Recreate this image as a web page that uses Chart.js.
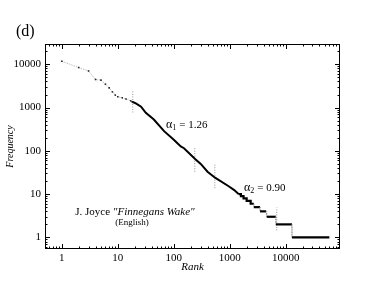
<!DOCTYPE html>
<html>
<head>
<meta charset="utf-8">
<script src="https://cdn.jsdelivr.net/npm/chart.js@4.4.1/dist/chart.umd.min.js"></script>
<style>
  html, body { margin: 0; padding: 0; background: #fff; }
  #wrap { width: 382px; height: 295px; }
</style>
</head>
<body>
<div id="wrap"><canvas id="myChart" width="382" height="295"></canvas></div>
<script>
// head of the distribution (sparse dots)
var headRank = [1, 2, 3, 4, 5, 6, 7, 8, 9, 10, 12, 14, 17, 18];
var headFreq = [11700, 8400, 7000, 4450, 4300, 3470, 2850, 2300, 1940, 1770, 1680, 1570, 1430, 1360];

// dense middle part
var midRank = [18, 21, 26, 31.6, 44, 67, 100, 133, 152, 240, 303, 400, 545, 970, 1200, 1450];
var midFreq = [1360, 1250, 1050, 755, 530, 285, 180, 126, 115, 65, 50, 33, 24, 15, 12.4, 10];

// tail: plateaus of equal frequency
var stepFreq  = [10, 9, 8, 7, 6, 5, 4, 3, 2, 1];
var stepStart = [1450, 1580, 1760, 2000, 2360, 2690, 3470, 4570, 6650, 12900];
var stepEnd   = [1580, 1760, 2000, 2360, 2690, 3470, 4450, 6650, 12900, 60000];

// dotted markers of the fit ranges
var markRank = [18.5, 237, 540, 6900];
var markLow  = [770, 33, 13.7, 1.45];
var markHigh = [2500, 123, 48, 4.9];

var xTickLabels = [1, 10, 100, 1000, 10000];
var yTickLabels = [1, 10, 100, 1000, 10000];

var serif = '"Liberation Serif", "DejaVu Serif", serif';

function pts(xs, ys) {
    return xs.map(function (x, i) { return { x: x, y: ys[i] }; });
}

var tail = [{ x: midRank[midRank.length - 1], y: midFreq[midFreq.length - 1] }];
stepFreq.forEach(function (f, i) {
    tail.push({ x: stepStart[i], y: f });
    tail.push({ x: stepEnd[i], y: f });
});

var datasets = [
    {
        data: pts(headRank, headFreq), showLine: true,
        borderColor: '#a0a0a0', borderWidth: 0.7, borderDash: [1.5, 1],
        pointStyle: 'rect', pointRadius: 1.1, pointBackgroundColor: '#222', pointBorderWidth: 0
    },
    {
        data: pts(midRank, midFreq), showLine: true,
        borderColor: '#000', borderWidth: 2, pointRadius: 0
    },
    {
        data: tail, showLine: true, borderColor: '#000', pointRadius: 0, borderWidth: 2.2,
        segment: {
            borderWidth: function (ctx) { return Math.abs(ctx.p0.y - ctx.p1.y) > 3 ? 0.8 : 2.2; },
            borderDash: function (ctx) { return Math.abs(ctx.p0.y - ctx.p1.y) > 3 ? [1, 1.5] : undefined; },
            borderColor: function (ctx) { return Math.abs(ctx.p0.y - ctx.p1.y) > 3 ? '#888' : '#000'; }
        }
    }
];
markRank.forEach(function (r, i) {
    datasets.push({
        data: [{ x: r, y: markLow[i] }, { x: r, y: markHigh[i] }], showLine: true,
        borderColor: '#777', borderWidth: 0.8, borderDash: [1, 1.5], pointRadius: 0
    });
});

function isLabel(v, list) {
    return list.some(function (t) { return Math.abs(t - v) < 1e-6 * t; });
}

// 프레임, 안쪽 눈금, 글자
var decor = {
    id: 'decor',
    afterDraw: function (chart) {
        var c = chart.ctx, a = chart.chartArea;
        var xs = chart.scales.x, ys = chart.scales.y;
        c.save();
        c.strokeStyle = '#000';
        c.lineWidth = 1;
        c.strokeRect(a.left + 0.5, a.top + 0.5, a.right - a.left - 1, a.bottom - a.top - 1);

        c.beginPath();
        for (var d = -1; d <= 5; d++) {
            for (var m = 1; m <= 9; m++) {
                var v = m * Math.pow(10, d);
                var len = m === 1 ? 5 : 2.5;
                if (v >= xs.min && v <= xs.max) {
                    var px = Math.round(xs.getPixelForValue(v)) + 0.5;
                    c.moveTo(px, a.bottom); c.lineTo(px, a.bottom - len);
                    c.moveTo(px, a.top); c.lineTo(px, a.top + len);
                }
                if (v >= ys.min && v <= ys.max) {
                    var py = Math.round(ys.getPixelForValue(v)) + 0.5;
                    c.moveTo(a.left, py); c.lineTo(a.left + len, py);
                    c.moveTo(a.right, py); c.lineTo(a.right - len, py);
                }
            }
        }
        c.stroke();

        c.fillStyle = '#000';
        c.textBaseline = 'middle';
        c.textAlign = 'left';
        c.font = '16px ' + serif;
        c.fillText('(d)', 16, 32);

        c.textAlign = 'center';
        c.font = 'italic 11px ' + serif;
        c.fillText('Rank', (a.left + a.right) / 2, 267);
        c.save();
        c.translate(10, (a.top + a.bottom) / 2);
        c.rotate(-Math.PI / 2);
        c.font = 'italic 10px ' + serif;
        c.fillText('Frequency', 0, 0);
        c.restore();

        function alpha(x, y, sub, rest) {
            c.textAlign = 'left';
            c.font = '12px ' + serif;
            c.fillText('\u03b1', x, y);
            var w = c.measureText('\u03b1').width;
            c.font = '8px ' + serif;
            c.fillText(sub, x + w, y + 3);
            var w2 = c.measureText(sub).width;
            c.font = '11px ' + serif;
            c.fillText(rest, x + w + w2 + 3, y);
        }
        alpha(166, 125, '1', '= 1.26');
        alpha(244, 188, '2', '= 0.90');

        var t1 = 'J. Joyce ';
        c.font = 'italic 11px ' + serif;
        var t2 = '"Finnegans Wake"';
        var w2 = c.measureText(t2).width;
        c.font = '11px ' + serif;
        var w1 = c.measureText(t1).width;
        var x0 = 135 - (w1 + w2) / 2;
        c.textAlign = 'left';
        c.fillText(t1, x0, 212);
        c.font = 'italic 11px ' + serif;
        c.fillText(t2, x0 + w1, 212);
        c.textAlign = 'center';
        c.font = '9px ' + serif;
        c.fillText('(English)', 132, 223);
        c.restore();
    }
};

window.onload = function () {
    var ctx = document.getElementById('myChart').getContext('2d');
    new Chart(ctx, {
        type: 'scatter',
        data: { datasets: datasets },
        options: {
            responsive: false,
            animation: false,
            events: [],
            layout: { padding: { top: 44, right: 42, left: 0, bottom: 0 } },
            plugins: { legend: { display: false }, tooltip: { enabled: false } },
            scales: {
                x: {
                    type: 'logarithmic', min: 0.5, max: 93000,
                    grid: { display: false, drawTicks: false },
                    border: { display: false },
                    afterFit: function (s) { s.height = 46; },
                    ticks: {
                        autoSkip: false, maxRotation: 0, padding: 3, color: '#000',
                        font: { family: serif, size: 11 },
                        callback: function (v) { return isLabel(v, xTickLabels) ? String(v) : ''; }
                    }
                },
                y: {
                    type: 'logarithmic', min: 0.54, max: 29400,
                    grid: { display: false, drawTicks: false },
                    border: { display: false },
                    afterFit: function (s) { s.width = 45; },
                    ticks: {
                        autoSkip: false, padding: 4, color: '#000',
                        font: { family: serif, size: 11 },
                        callback: function (v) { return isLabel(v, yTickLabels) ? String(v) : ''; }
                    }
                }
            }
        },
        plugins: [decor]
    });
};
</script>
</body>
</html>
